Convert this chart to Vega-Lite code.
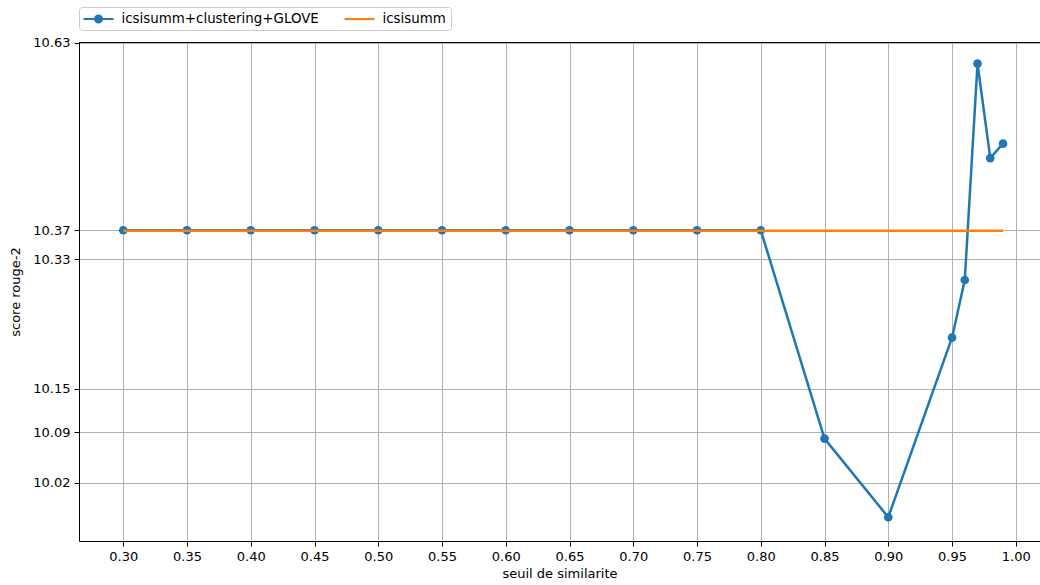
{
  "$schema": "https://vega.github.io/schema/vega-lite/v6.json",
  "width": 961,
  "height": 499,
  "autosize": {"type": "none"},
  "padding": {"left": 79, "top": 42, "right": 0, "bottom": 44},
  "background": "white",
  "config": {
    "font": "DejaVu Sans",
    "view": {"stroke": null},
    "axis": {
      "labelFont": "DejaVu Sans", "labelFontSize": 13, "labelColor": "#000",
      "titleFont": "DejaVu Sans", "titleFontSize": 13, "titleFontWeight": "normal", "titleColor": "#000",
      "tickColor": "#000", "tickSize": 5, "tickWidth": 1, "labelPadding": 4,
      "domainColor": "#000", "domainWidth": 1,
      "gridColor": "#b0b0b0", "gridWidth": 1
    }
  },
  "data": {
    "values": [
      {"x": 0.30, "y": 10.37, "series": "icsisumm+clustering+GLOVE"},
      {"x": 0.35, "y": 10.37, "series": "icsisumm+clustering+GLOVE"},
      {"x": 0.40, "y": 10.37, "series": "icsisumm+clustering+GLOVE"},
      {"x": 0.45, "y": 10.37, "series": "icsisumm+clustering+GLOVE"},
      {"x": 0.50, "y": 10.37, "series": "icsisumm+clustering+GLOVE"},
      {"x": 0.55, "y": 10.37, "series": "icsisumm+clustering+GLOVE"},
      {"x": 0.60, "y": 10.37, "series": "icsisumm+clustering+GLOVE"},
      {"x": 0.65, "y": 10.37, "series": "icsisumm+clustering+GLOVE"},
      {"x": 0.70, "y": 10.37, "series": "icsisumm+clustering+GLOVE"},
      {"x": 0.75, "y": 10.37, "series": "icsisumm+clustering+GLOVE"},
      {"x": 0.80, "y": 10.37, "series": "icsisumm+clustering+GLOVE"},
      {"x": 0.85, "y": 10.081, "series": "icsisumm+clustering+GLOVE"},
      {"x": 0.90, "y": 9.972, "series": "icsisumm+clustering+GLOVE"},
      {"x": 0.95, "y": 10.221, "series": "icsisumm+clustering+GLOVE"},
      {"x": 0.96, "y": 10.301, "series": "icsisumm+clustering+GLOVE"},
      {"x": 0.97, "y": 10.601, "series": "icsisumm+clustering+GLOVE"},
      {"x": 0.98, "y": 10.470, "series": "icsisumm+clustering+GLOVE"},
      {"x": 0.99, "y": 10.490, "series": "icsisumm+clustering+GLOVE"},
      {"x": 0.30, "y": 10.3693, "series": "icsisumm"},
      {"x": 0.99, "y": 10.3693, "series": "icsisumm"}
    ]
  },
  "encoding": {
    "x": {
      "field": "x", "type": "quantitative",
      "scale": {"domain": [0.2653, 1.019], "nice": false, "zero": false},
      "axis": {
        "title": "seuil de similarite", "values": [0.30, 0.35, 0.40, 0.45, 0.50, 0.55, 0.60, 0.65, 0.70, 0.75, 0.80, 0.85, 0.90, 0.95, 1.00],
        "format": ".2f", "grid": true, "titlePadding": 4
      }
    },
    "y": {
      "field": "y", "type": "quantitative",
      "scale": {"domain": [9.939, 10.631], "nice": false, "zero": false},
      "axis": {
        "title": "score rouge-2", "values": [10.63, 10.37, 10.33, 10.15, 10.09, 10.02],
        "format": ".2f", "grid": true, "titlePadding": 10
      }
    }
  },
  "layer": [
    {
      "transform": [{"filter": "datum.series == 'icsisumm+clustering+GLOVE'"}],
      "mark": {"type": "line", "color": "#1f77b4", "strokeWidth": 2.5},
      "encoding": {}
    },
    {
      "transform": [{"filter": "datum.series == 'icsisumm+clustering+GLOVE'"}],
      "mark": {"type": "point", "shape": "circle", "filled": true, "color": "#1f77b4", "size": 75, "opacity": 1},
      "encoding": {}
    },
    {
      "transform": [{"filter": "datum.series == 'icsisumm'"}],
      "mark": {"type": "line", "color": "#ff7f0e", "strokeWidth": 2.5},
      "encoding": {}
    },
    {
      "mark": {"type": "rule", "color": "#000", "strokeWidth": 1, "yOffset": 0.5},
      "encoding": {
        "x": {"datum": 0.2653},
        "x2": {"datum": 1.019},
        "y": {"datum": 10.631}
      }
    },
    {
      "transform": [{"filter": "datum.x < 0"}],
      "mark": {"type": "point", "filled": true, "opacity": 1, "strokeWidth": 0},
      "encoding": {
        "color": {
          "field": "series", "type": "nominal",
          "scale": {"domain": ["icsisumm+clustering+GLOVE", "icsisumm"], "range": ["#1f77b4", "#ff7f0e"]},
          "legend": {
            "title": null, "orient": "none", "legendX": 0, "legendY": -35, "direction": "horizontal",
            "labelFont": "DejaVu Sans", "labelFontSize": 13.4, "labelColor": "#000", "labelLimit": 500,
            "symbolSize": 225, "symbolStrokeWidth": 0, "symbolOpacity": 1,
            "labelOffset": 23, "columnPadding": 25, "padding": 4.5,
            "strokeColor": "#cccccc", "fillColor": "white", "cornerRadius": 3
          }
        },
        "shape": {
          "field": "series", "type": "nominal",
          "scale": {
            "domain": ["icsisumm+clustering+GLOVE", "icsisumm"],
            "range": [
              "M-1,-0.14H3V0.14H-1Z M0.4,0A0.6,0.6 0 1,1 1.6,0A0.6,0.6 0 1,1 0.4,0Z",
              "M-1,-0.14H3V0.14H-1Z"
            ]
          },
          "legend": {
            "title": null, "orient": "none", "legendX": 0, "legendY": -35, "direction": "horizontal",
            "labelFont": "DejaVu Sans", "labelFontSize": 13.4, "labelColor": "#000", "labelLimit": 500,
            "symbolSize": 225, "symbolStrokeWidth": 0, "symbolOpacity": 1,
            "labelOffset": 23, "columnPadding": 25, "padding": 4.5,
            "strokeColor": "#cccccc", "fillColor": "white", "cornerRadius": 3
          }
        }
      }
    }
  ]
}
